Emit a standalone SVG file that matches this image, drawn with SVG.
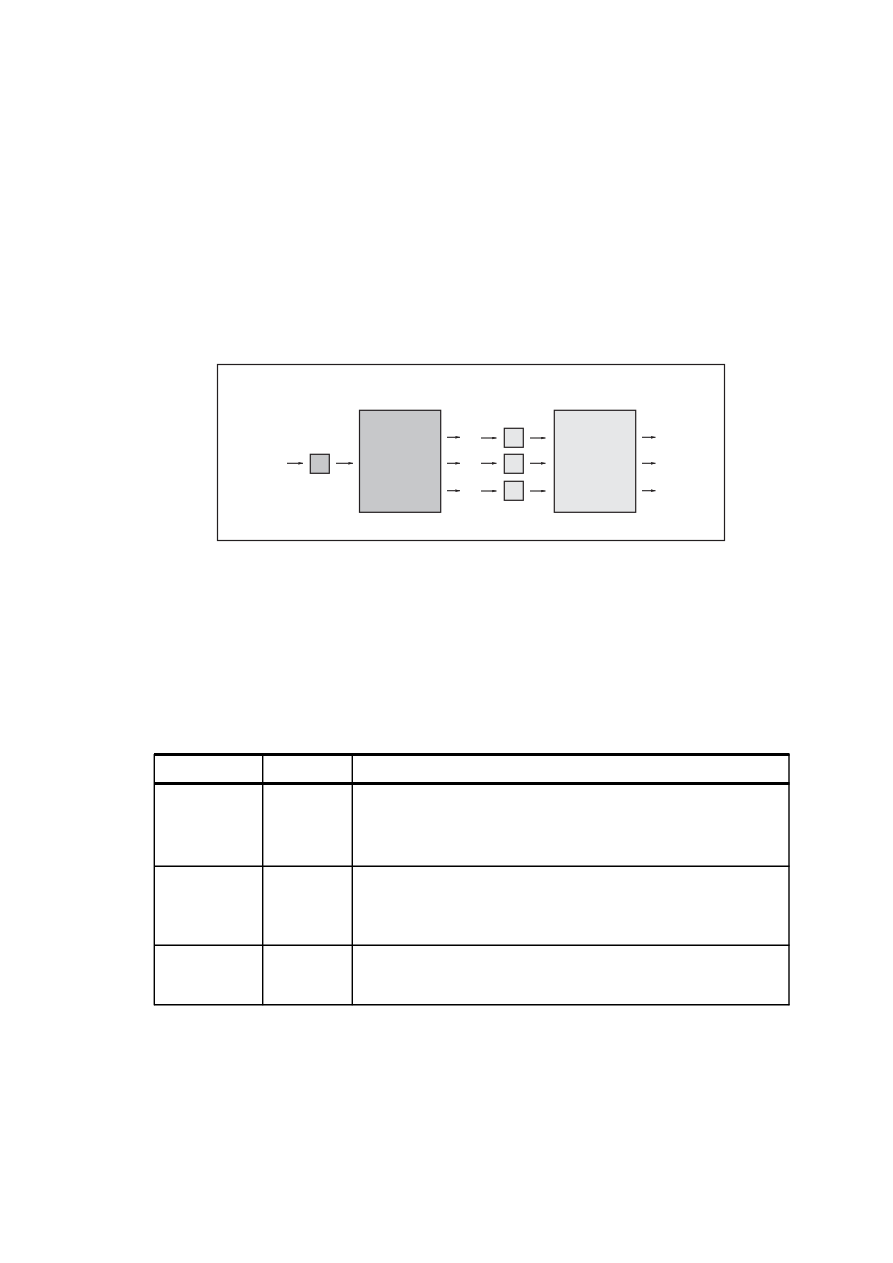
<svg xmlns="http://www.w3.org/2000/svg" width="893" height="1263" viewBox="0 0 893 1263">
<style>
.frame{fill:none;stroke:#231f20;stroke-width:1.2}
.dark{fill:#c7c8ca;stroke:#231f20;stroke-width:1.2}
.light{fill:#e6e7e8;stroke:#231f20;stroke-width:1.2}
.conn line{stroke:#231f20;stroke-width:1.1;marker-end:url(#ah)}
.thin{stroke:#000;stroke-width:1.4;fill:none}
.thick{stroke:#000;stroke-width:3;fill:none}
</style>
<defs>
<marker id="ah" viewBox="0 0 10 6" refX="10" refY="3" markerWidth="5" markerHeight="3" markerUnits="userSpaceOnUse" orient="auto">
<path d="M0,0 L10,3 L0,6 L2,3 Z" fill="#231f20"/>
</marker>
</defs>
<rect width="893" height="1263" fill="#fff"/>
<rect class="frame" x="217.5" y="364.5" width="507" height="176"/>
<g id="input-block"><rect class="dark" x="310.3" y="454.3" width="19" height="19"/></g>
<g id="main-block"><rect class="dark" x="359.5" y="410.3" width="81.2" height="102"/></g>
<g id="block-a"><rect class="light" x="504.3" y="428.3" width="19" height="19"/></g>
<g id="block-b"><rect class="light" x="504.3" y="454.3" width="19" height="19"/></g>
<g id="block-c"><rect class="light" x="504.3" y="481.3" width="19" height="19"/></g>
<g id="output-block"><rect class="light" x="554.3" y="410.3" width="81.4" height="102"/></g>
<g id="connectors" class="conn">
<line x1="287" y1="463.3" x2="303" y2="463.3"/>
<line x1="336" y1="463.3" x2="353" y2="463.3"/>
<line x1="447" y1="437.3" x2="460" y2="437.3"/>
<line x1="447" y1="463.3" x2="460" y2="463.3"/>
<line x1="447" y1="490.7" x2="460" y2="490.7"/>
<line x1="481" y1="438" x2="496.5" y2="438"/>
<line x1="481" y1="463.3" x2="496.5" y2="463.3"/>
<line x1="481" y1="491" x2="496.5" y2="491"/>
<line x1="530" y1="438" x2="545.5" y2="438"/>
<line x1="530" y1="463.3" x2="545.5" y2="463.3"/>
<line x1="530" y1="491" x2="545.5" y2="491"/>
<line x1="642" y1="437.3" x2="655.5" y2="437.3"/>
<line x1="642" y1="463.3" x2="655.5" y2="463.3"/>
<line x1="642" y1="490.7" x2="655.5" y2="490.7"/>
</g>
<g id="table">
<line class="thick" x1="154" y1="754.5" x2="789.5" y2="754.5"/>
<line class="thick" x1="154" y1="783.5" x2="789.5" y2="783.5"/>
<line class="thin" x1="154.3" y1="754" x2="154.3" y2="1005.3"/>
<line class="thin" x1="262.7" y1="754" x2="262.7" y2="1005.3"/>
<line class="thin" x1="352.3" y1="754" x2="352.3" y2="1005.3"/>
<line class="thin" x1="789" y1="754" x2="789" y2="1005.3"/>
<line class="thin" x1="154" y1="866.3" x2="789.5" y2="866.3"/>
<line class="thin" x1="154" y1="945.3" x2="789.5" y2="945.3"/>
<line class="thin" x1="154" y1="1004.7" x2="789.5" y2="1004.7"/>
</g>
</svg>
